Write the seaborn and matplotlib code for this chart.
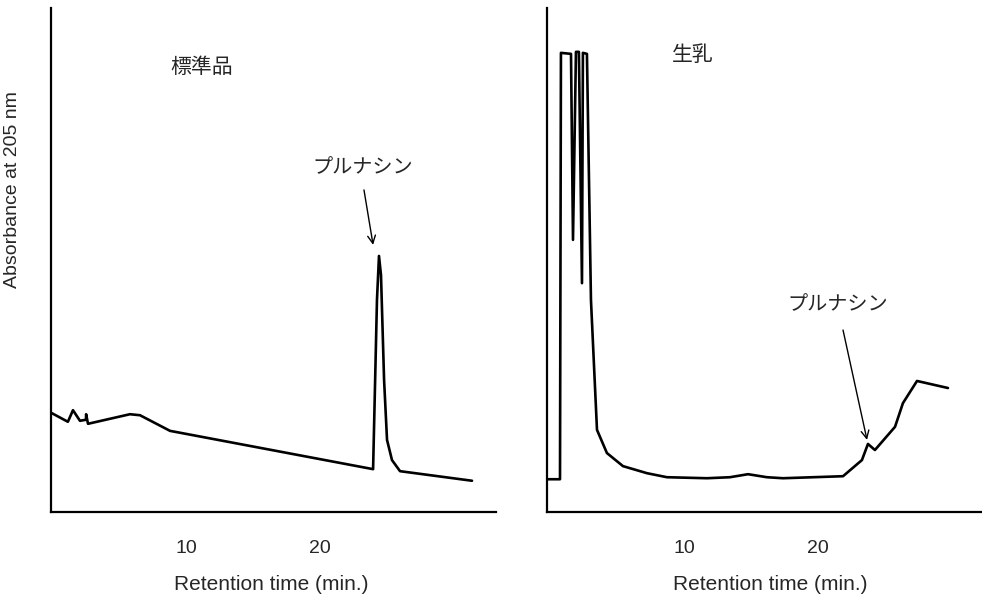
import matplotlib
matplotlib.use("Agg")
import matplotlib.pyplot as plt
import seaborn as sns
import pandas as pd

# Standard (標準品) chromatogram trace
std_time = [0.0, 1.19, 1.57, 2.09, 2.54, 2.55, 2.69, 5.82, 6.57, 8.81,
            23.96, 24.25, 24.4, 24.55, 24.78, 25.0, 25.37, 25.97, 31.34]
std_abs = [19.6, 17.9, 20.2, 18.1, 18.3, 19.4, 17.5, 19.4, 19.2, 16.1,
           8.5, 42.1, 50.8, 47.0, 26.2, 14.3, 10.3, 8.1, 6.2]

# Raw milk (生乳) chromatogram trace
milk_time = [-0.15, 0.75, 0.82, 1.57, 1.72, 1.94, 2.16, 2.39, 2.46, 2.76,
             3.06, 3.51, 4.25, 5.45, 7.24, 8.73, 11.72, 13.43, 14.78, 16.19,
             17.39, 21.87, 23.28, 23.73, 24.25, 25.75, 26.34, 27.39, 29.7]
milk_abs = [6.5, 6.5, 91.1, 90.9, 54.0, 91.3, 91.3, 45.4, 91.1, 90.9,
            42.1, 16.3, 11.7, 9.1, 7.7, 6.9, 6.7, 6.9, 7.5, 6.9,
            6.7, 7.1, 10.3, 13.5, 12.3, 16.9, 21.6, 26.0, 24.6]

x_ticks = [10, 20]
x_label = "Retention time (min.)"
y_label = "Absorbance at 205 nm"

sns.set_style("white")
plt.rcParams["font.family"] = ["Liberation Sans", "Noto Sans CJK JP"]

fig = plt.figure(figsize=(9.82, 5.96), dpi=100)
ax1 = fig.add_axes([51 / 982, 84 / 596, 445 / 982, 504 / 596])
ax2 = fig.add_axes([547 / 982, 84 / 596, 435 / 982, 504 / 596])

std_df = pd.DataFrame({"time": std_time, "abs": std_abs})
milk_df = pd.DataFrame({"time": milk_time, "abs": milk_abs})

sns.lineplot(data=std_df, x="time", y="abs", ax=ax1, sort=False,
             estimator=None, color="black", lw=1.9)
sns.lineplot(data=milk_df, x="time", y="abs", ax=ax2, sort=False,
             estimator=None, color="black", lw=1.9)

ax1.set_xlim(-0.07, 33.13)
ax2.set_xlim(-0.22, 32.24)

for ax in (ax1, ax2):
    ax.set_ylim(0, 100)
    ax.set_yticks([])
    ax.set_xticks(x_ticks)
    ax.set_xticklabels([str(t) for t in x_ticks])
    ax.tick_params(axis="x", direction="in", length=5, width=1.4,
                   pad=20, labelsize=14, color="black")
    for side in ("top", "right"):
        ax.spines[side].set_visible(False)
    for side in ("left", "bottom"):
        ax.spines[side].set_linewidth(1.6)
        ax.spines[side].set_color("black")
    ax.set_xlabel(x_label, fontsize=15)
    ax.set_ylabel("")

ax1.xaxis.set_label_coords(0.494, -0.125)
ax2.xaxis.set_label_coords(0.513, -0.125)

ax1.set_ylabel(y_label, fontsize=14)
ax1.yaxis.label.set_va("center")
ax1.yaxis.set_label_coords(-0.0854, 0.639)

# Panel titles
ax1.text(11.2, 88.3, "標準品", fontsize=15, ha="center", va="center")
ax2.text(10.67, 90.7, "生乳", fontsize=15, ha="center", va="center")

# Peak labels with arrows
ax1.text(23.17, 68.3, "プルナシン", fontsize=14.5, ha="center", va="center")
ax1.annotate("", xy=(23.96, 53.0), xytext=(23.28, 63.9),
             arrowprops=dict(arrowstyle="->", color="black", lw=1.0,
                             shrinkA=0, shrinkB=0, mutation_scale=14))
ax2.text(21.46, 41.1, "プルナシン", fontsize=14.5, ha="center", va="center")
ax2.annotate("", xy=(23.66, 14.3), xytext=(21.87, 36.1),
             arrowprops=dict(arrowstyle="->", color="black", lw=1.0,
                             shrinkA=0, shrinkB=0, mutation_scale=14))

fig.savefig("out.png", dpi=100, facecolor="white")
